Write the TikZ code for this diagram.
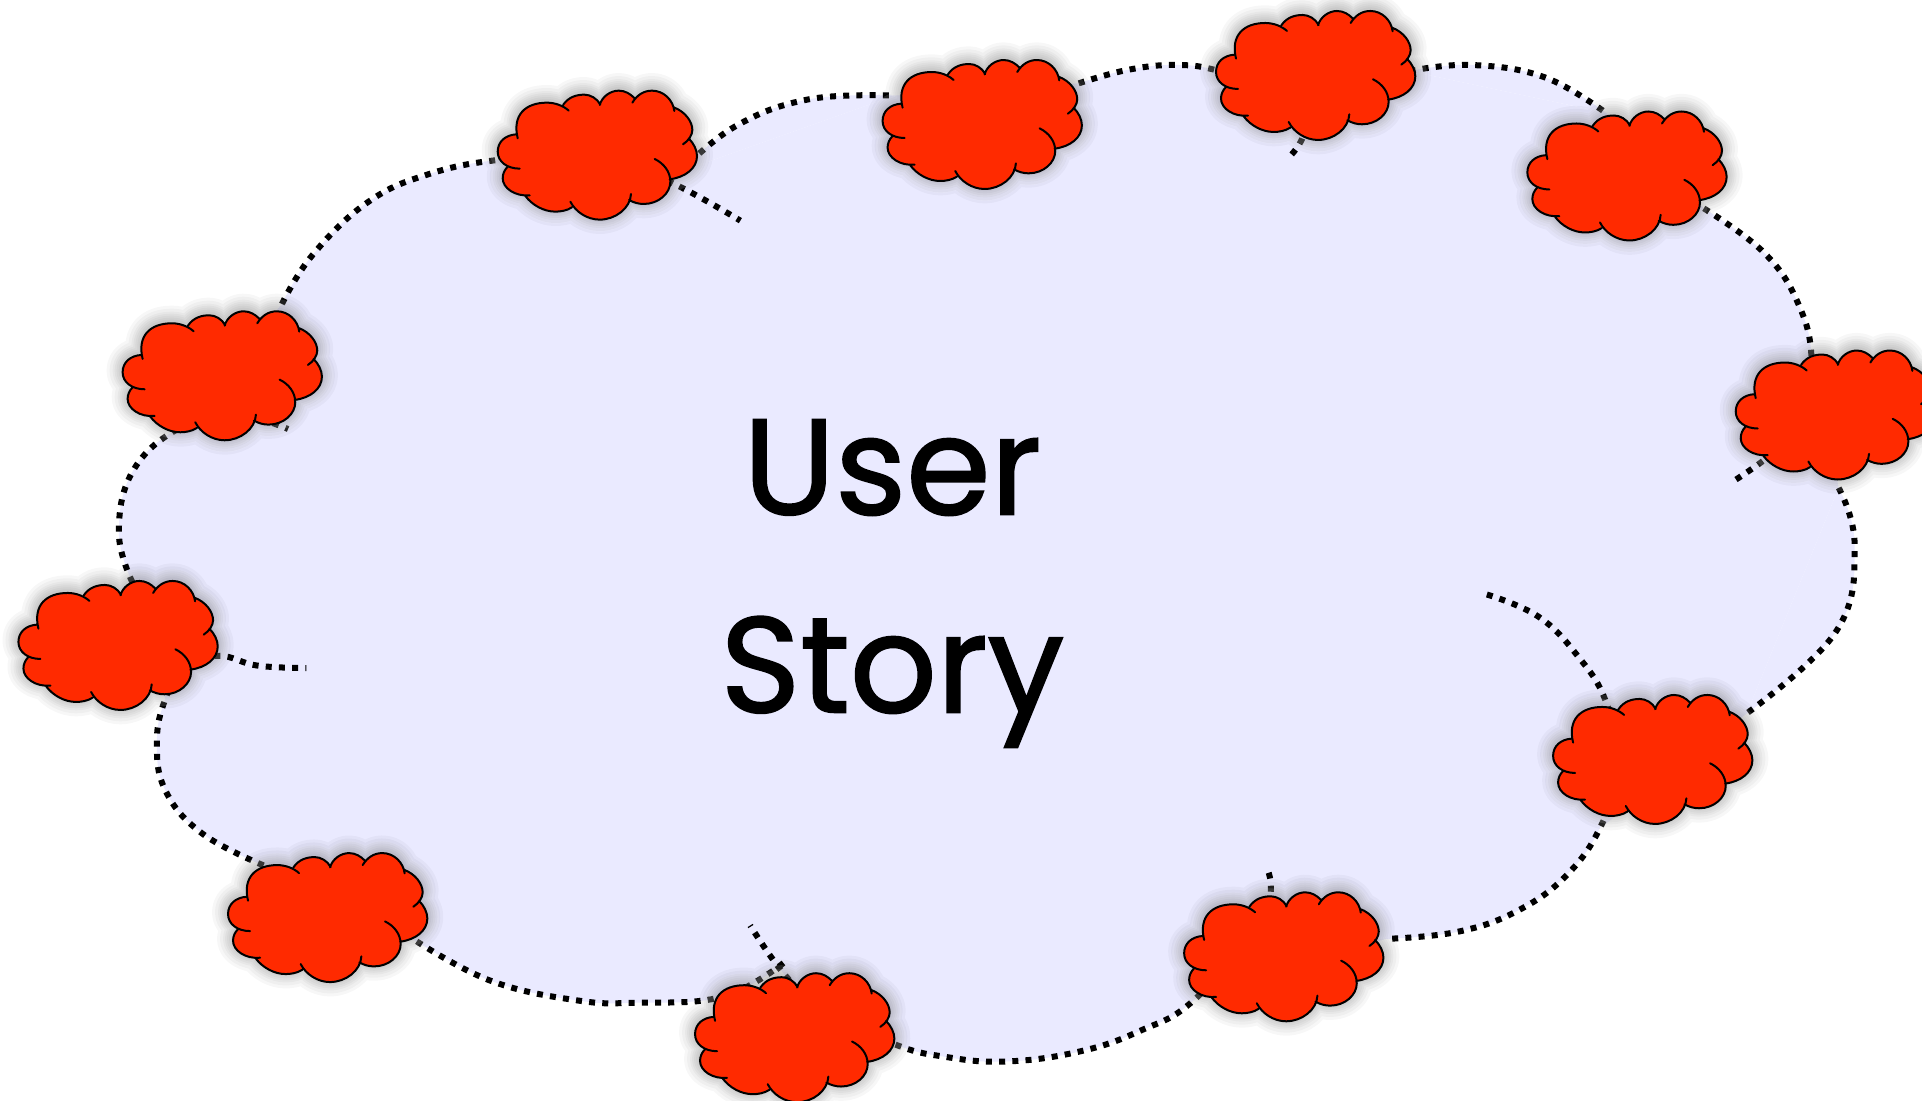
\documentclass[tikz,border=0pt]{standalone}
\usepackage{fontspec}
\setmainfont{Poppins}[FakeBold=1.4]
\definecolor{lav}{HTML}{EAEAFF}
\definecolor{cred}{HTML}{FF2A00}
\newcommand{\cloudarcs}[1]{
(118,296) .. controls (80,296) and (52,275) .. (52,245) .. controls (52,215) and (75,195) .. (108,193) #1
(112,205) .. controls (95,135) and (135,98) .. (200,98) .. controls (225,98) and (250,108) .. (265,122) #1
(248,105) .. controls (265,80) and (290,74) .. (312,74) .. controls (330,74) and (350,85) .. (360,104) #1
(358,105) .. controls (365,80) and (390,62) .. (415,62) .. controls (435,62) and (450,72) .. (462,84) #1
(456,98) .. controls (470,75) and (490,62) .. (515,62) .. controls (550,62) and (578,90) .. (582,123) #1
(580,112) .. controls (615,125) and (636,155) .. (636,180) .. controls (636,195) and (625,212) .. (608,223) #1
(625,205) .. controls (640,220) and (650,240) .. (650,258) .. controls (650,295) and (615,322) .. (568,328) #1
(523,267) .. controls (550,280) and (570,305) .. (570,335) .. controls (570,370) and (535,402) .. (490,402) .. controls (475,402) and (460,398) .. (446,390) #1
(452,372) .. controls (450,415) and (405,449) .. (358,449) .. controls (320,449) and (285,425) .. (270,395) #1
(275,412) .. controls (260,422) and (240,425) .. (225,425) .. controls (190,425) and (155,405) .. (135,378) #1
(148,376) .. controls (105,380) and (67,355) .. (67,325) .. controls (67,312) and (72,300) .. (82,290) #1
}
% every lobe of the big cloud, handed to #1 (fill pass or dotted pass)
\newcommand{\biglobes}[1]{
#1{(230,248)(255,208)(300,165)(350,142)(410,130)(490,125)(550,150)(604,180)}
#1{(555,140)(600,103)(660,81)(730,78)}
#1{(880,68)(920,57)(960,53)(995,58)(1045,75)(1064,105)(1050,130)}
#1{(1150,58)(1200,53)(1260,63)(1310,92)}
#1{(1390,170)(1440,207)(1468,250)(1478,295)(1472,345)(1415,392)}
#1{(1500,398)(1513,445)(1498,515)(1425,582)}
#1{(1213,485)(1255,503)(1287,535)(1310,572)(1322,625)(1307,672)(1280,712)(1240,742)(1190,760)(1130,766)}
#1{(1035,712)(1030,750)(975,815)(930,841)(880,858)(820,866)(770,862)(730,852)(672,825)(640,795)(612,755)}
#1{(340,768)(400,800)(470,816)(520,818)(590,813)(640,785)}
#1{(215,706)(165,680)(135,645)(128,605)(135,570)(150,545)(178,535)(210,543)(250,545)}
#1{(108,475)(97,435)(108,385)(145,350)(190,338)(235,350)}
}
\tikzset{
  x=0.6129pt,y=-0.6129pt,
  dotline/.style={draw=black,line width=3pt,dash pattern=on 3pt off 3.6pt},
  lobecurve/.style={smooth,tension=.7},
  cloudglow/.pic={
    \foreach \w in {12,8} {\draw[white,opacity=.15,line width=\w pt,line join=round,scale=.2719] \cloudarcs{--} cycle;}
    \foreach \w in {16,13,10,8,6,4,2} {\draw[black,opacity=.03,line width=\w pt,line join=round,scale=.2719,yshift=3] \cloudarcs{--} cycle;}
  },
  redcloud/.pic={
    \fill[cred,scale=.2719] \cloudarcs{--} cycle;
    \draw[black,line width=1pt,scale=.2719,line cap=round] \cloudarcs{};
  },
  storytext/.style={font=\fontsize{68}{99}\selectfont,align=center,inner sep=0pt}
}
\newcommand{\fillobe}[1]{\fill[lav] plot[lobecurve] coordinates {#1};}
\newcommand{\dotlobe}[1]{\draw[dotline] plot[lobecurve] coordinates {#1};}
\begin{document}
\begin{tikzpicture}
\useasboundingbox (0,0) rectangle (1568,898.2);
\clip (0,0) rectangle (1568,898.2);
\fill[white] (0,0) rectangle (1568,898.2);
% big cloud body
\fill[lav] (230,248) -- (555,140) -- (730,78) -- (880,68) -- (1150,58) -- (1310,92) -- (1390,170) -- (1478,295) -- (1500,398) -- (1425,582) -- (1310,672) -- (1130,766) -- (975,815) -- (730,852) -- (640,790) -- (340,768) -- (215,706) -- (135,570) -- (108,475) -- (145,350) -- cycle;
\biglobes\fillobe
\biglobes\dotlobe
% shadows
\pic at (391.9,57.1) {cloudglow};
\pic at (705.9,32.1) {cloudglow};
\pic at (977.9,-7.9) {cloudglow};
\pic at (1231.9,74.1) {cloudglow};
\pic at (1401.9,269.1) {cloudglow};
\pic at (1252.9,550.1) {cloudglow};
\pic at (951.9,711.1) {cloudglow};
\pic at (552.9,777.1) {cloudglow};
\pic at (171.9,679.1) {cloudglow};
\pic at (0.9,457.1) {cloudglow};
\pic at (85.9,237.1) {cloudglow};
% small clouds
\pic (c1) at (391.9,57.1) {redcloud};
\pic (c2) at (705.9,32.1) {redcloud};
\pic (c3) at (977.9,-7.9) {redcloud};
\pic (c4) at (1231.9,74.1) {redcloud};
\pic (c5) at (1401.9,269.1) {redcloud};
\pic (c6) at (1252.9,550.1) {redcloud};
\pic (c7) at (951.9,711.1) {redcloud};
\pic (c8) at (552.9,777.1) {redcloud};
\pic (c9) at (171.9,679.1) {redcloud};
\pic (c10) at (0.9,457.1) {redcloud};
\pic (c11) at (85.9,237.1) {redcloud};
\node[storytext] (story) at (728,476) {User\\Story};
\end{tikzpicture}
\end{document}
